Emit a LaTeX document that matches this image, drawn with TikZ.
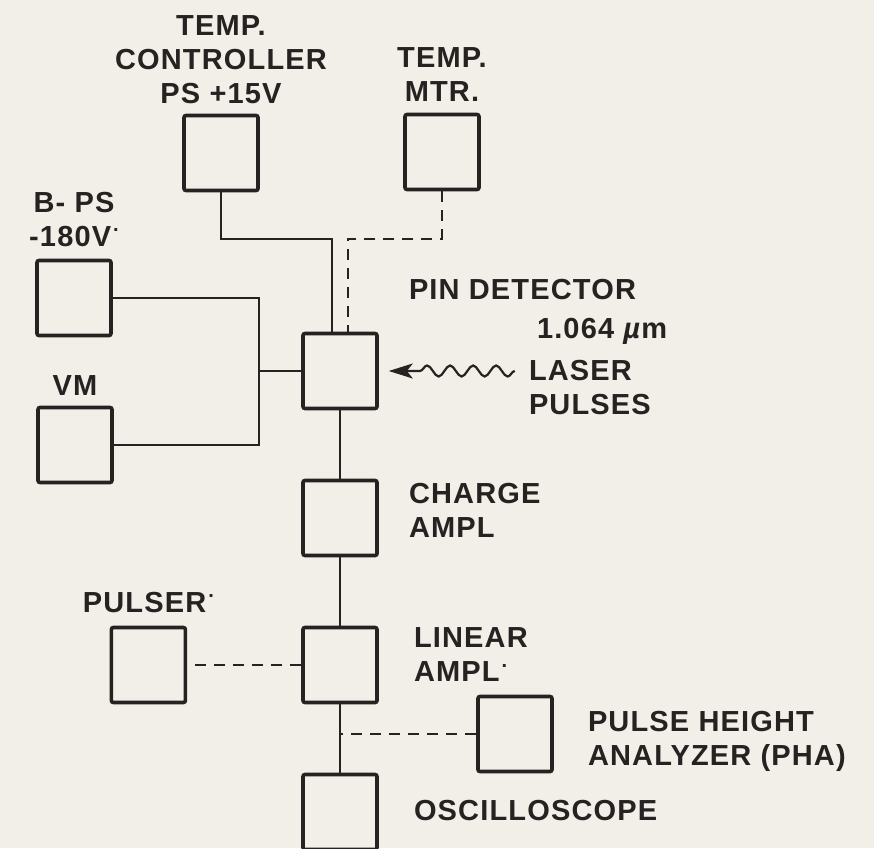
\documentclass[tikz,border=0pt]{standalone}
\usepackage{fontspec}
\newfontfamily\labelfont{Liberation Sans}[LetterSpace=4]
\usetikzlibrary{arrows.meta,positioning,decorations.pathmorphing}
\definecolor{Paper}{HTML}{F1EFE7}
\definecolor{Ink}{HTML}{262222}
\newcommand\ftdot{\kern2pt\raisebox{.5em}[0pt][0pt]{\fontsize{20}{20}\selectfont.}}
\tikzset{
  unit/.style={draw=Ink,line width=3.6pt,rounded corners=2pt,minimum width=74pt,minimum height=75pt,inner sep=0pt},
  lbl/.style={text=Ink,font=\fontsize{29}{34}\labelfont\bfseries,inner sep=0pt},
  wire/.style={draw=Ink,line width=2pt},
  link/.style={wire,dash pattern=on 11pt off 8pt},
  beam/.style={draw=Ink,line width=2.2pt,-{Stealth[length=24pt,width=15pt,inset=6pt]},decorate,
    decoration={snake,amplitude=5.5pt,segment length=23pt,post length=26pt}}
}
\begin{document}
\begin{tikzpicture}[x=1pt,y=-1pt,node distance=68.4pt]
  \fill[Paper] (0,0) rectangle (874,848);
  \useasboundingbox (0,0) rectangle (874,848);
  % units
  \node[unit] (ctrl) at (221,153) {};
  \node[unit] (mtr) at (442,152) {};
  \node[unit] (bps) at (74,298) {};
  \node[unit] (vm) at (75,445) {};
  \node[unit] (pin) at (340,371) {};
  \node[unit,below=of pin] (chg) {};
  \node[unit,below=of chg] (lin) {};
  \node[unit,below=of lin] (osc) {};
  \node[unit,left=114pt of lin] (pls) {};
  \node[unit] (pha) at (515,734) {};
  % labels
  \node[lbl,align=center,above=10pt of ctrl] (ctrll) {TEMP.\\CONTROLLER\\PS +15V};
  \node[lbl,align=center,above=11pt of mtr] (mtrl) {TEMP.\\MTR.};
  \node[lbl,align=center,above=12pt of bps] (bpsl) {B- PS\\-180V\ftdot};
  \node[lbl,above=10pt of vm] (vml) {VM};
  \node[lbl,above=13pt of pls] (plsl) {PULSER\ftdot};
  \node[lbl,anchor=north west] (pinl) at ([shift={(30,-53)}]pin.north east) {PIN DETECTOR};
  \node[lbl,anchor=north west] (wavel) at ([shift={(158,-14)}]pin.north east) {1.064 \textit{µ}m};
  \node[lbl,anchor=north west,align=left] (laser) at ([shift={(150,28)}]pin.north east) {LASER\\PULSES};
  \node[lbl,anchor=north west,align=left] (chgl) at ([shift={(30,4)}]chg.north east) {CHARGE\\AMPL};
  \node[lbl,anchor=north west,align=left] (linl) at ([shift={(35,2)}]lin.north east) {LINEAR\\AMPL\ftdot};
  \node[lbl,anchor=north west,align=left] (phal) at ([shift={(34,16)}]pha.north east) {PULSE HEIGHT\\ANALYZER (PHA)};
  \node[lbl,anchor=north west] (oscl) at ([shift={(35,27)}]osc.north east) {OSCILLOSCOPE};
  % wiring
  \coordinate (knee) at ([yshift=93pt]pin.north);
  \coordinate (jct) at ([xshift=-42pt]pin.west);
  \coordinate (tap) at (lin.south |- pha.west);
  \coordinate (src) at ([xshift=-14pt]laser.west);
  \draw[wire] (ctrl.south) |- ([xshift=-8pt]knee) -- ([xshift=-8pt]pin.north);
  \draw[link] (mtr.south) |- ([xshift=8pt]knee) -- ([xshift=8pt]pin.north);
  \draw[wire] (bps.east) -- (bps.east -| jct) -- (vm.east -| jct) -- (vm.east);
  \draw[wire] (jct) -- (pin.west);
  \draw[wire] (pin) -- (chg);
  \draw[wire] (chg) -- (lin);
  \draw[wire] (lin) -- (osc);
  \draw[link] (lin) -- (pls);
  \draw[link] (pha.west) -- (tap);
  \draw[beam] (src |- pin.east) -- ([xshift=10pt]pin.east);
\end{tikzpicture}
\end{document}
